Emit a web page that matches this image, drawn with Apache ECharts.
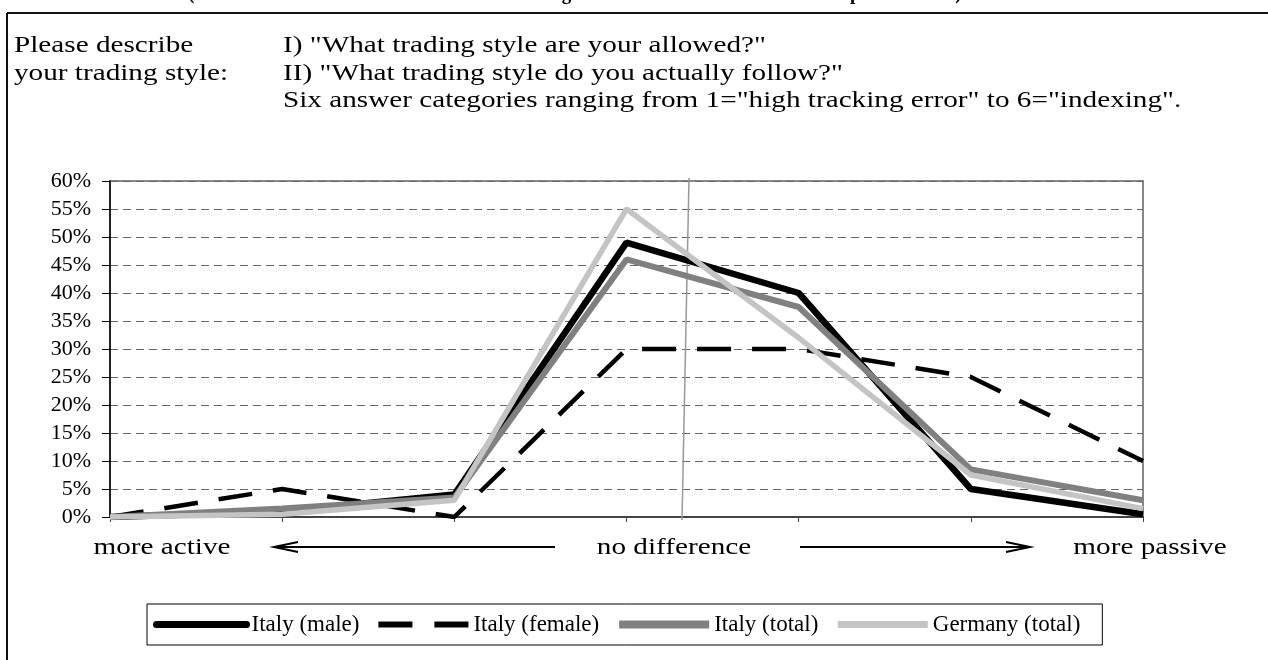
<!DOCTYPE html>
<html>
<head>
<meta charset="utf-8">
<script src="https://cdn.jsdelivr.net/npm/echarts@6/dist/echarts.min.js"></script>
<style>
  html, body { margin: 0; padding: 0; background: #fff; }
  #chart { width: 1268px; height: 660px; }
</style>
</head>
<body>
<div id="chart"></div>
<script>
// difference between actual and allowed style, -3 (more active) .. +3 (more passive)
const categories = ['-3', '-2', '-1', '0', '1', '2', '3'];
const italyMale = [0, 1, 4, 49, 40, 5, 0.5];
const italyFemale = [0, 5, 0, 30, 30, 25, 10];
const italyTotal = [0, 1.5, 3.5, 46, 37.5, 8.5, 3];
const germanyTotal = [0, 0.5, 3, 55, 32, 7.5, 1.5];
const seriesNames = ['Italy (male)', 'Italy (female)', 'Italy (total)', 'Germany (total)'];
const yMin = 0, yMax = 60, yStep = 5;

const serif = "'Liberation Serif', 'Times New Roman', serif";
const stretch = 1.27;

function txt(text, x, y, align) {
  return {
    type: 'text', x: x, y: y, scaleX: stretch, silent: true,
    style: { text: text, font: '23px ' + serif, fill: '#000', align: align || 'left', verticalAlign: 'middle' }
  };
}

const chart = echarts.init(document.getElementById('chart'));

chart.setOption({
  backgroundColor: '#fff',
  animation: false,
  grid: {
    left: 110, right: 125, top: 181, bottom: 143,
    show: true, borderColor: '#888', borderWidth: 2, backgroundColor: 'transparent',
    outerBoundsMode: 'none'
  },
  legend: {
    left: 147, top: 604,
    padding: [9, 22, 9, 6],
    itemWidth: 90, itemHeight: 14, itemGap: 16,
    borderColor: '#000', borderWidth: 1, borderRadius: 0,
    backgroundColor: '#fff',
    itemStyle: { opacity: 0 },
    textStyle: { fontFamily: serif, fontSize: 23, color: '#000' },
    data: [
      { name: seriesNames[0], lineStyle: { width: 7, cap: 'round' } },
      { name: seriesNames[1], lineStyle: { width: 6, type: [34, 22] } },
      { name: seriesNames[2], lineStyle: { width: 8 } },
      { name: seriesNames[3], lineStyle: { width: 7 } }
    ]
  },
  xAxis: {
    type: 'category',
    data: categories,
    boundaryGap: false,
    axisLine: { lineStyle: { color: '#444', width: 2 } },
    axisTick: { show: true, interval: 0, length: 5, lineStyle: { color: '#444', width: 1 } },
    axisLabel: { show: false },
    splitLine: { show: false }
  },
  yAxis: {
    type: 'value',
    min: yMin, max: yMax, interval: yStep,
    axisLine: { show: true, lineStyle: { color: '#000', width: 1.5 } },
    axisTick: { show: true, length: 8, lineStyle: { color: '#000' } },
    axisLabel: { formatter: '{value}%', fontFamily: serif, fontSize: 22, color: '#000', margin: 19 },
    splitLine: { show: true, lineStyle: { color: '#666', width: 1, type: [8, 5] } }
  },
  series: [
    {
      name: seriesNames[0], type: 'line', data: italyMale, symbol: 'none',
      color: '#000', lineStyle: { color: '#000', width: 6.5 }
    },
    {
      name: seriesNames[1], type: 'line', data: italyFemale, symbol: 'none',
      color: '#000', lineStyle: { color: '#000', width: 4.5, type: [34, 21] }
    },
    {
      name: seriesNames[2], type: 'line', data: italyTotal, symbol: 'none',
      color: '#808080', lineStyle: { color: '#808080', width: 6 }
    },
    {
      name: seriesNames[3], type: 'line', data: germanyTotal, symbol: 'none',
      color: '#c4c4c4', lineStyle: { color: '#c4c4c4', width: 5.5 }
    }
  ],
  graphic: [
    // frame of the page figure
    { type: 'line', silent: true, shape: { x1: 7, y1: 13, x2: 1268, y2: 13 }, style: { stroke: '#111', lineWidth: 2 } },
    { type: 'line', silent: true, shape: { x1: 7, y1: 13, x2: 7, y2: 660 }, style: { stroke: '#111', lineWidth: 2 } },
    // cut-off heading
    {
      type: 'text', x: 188, y: 4, scaleX: 0.95, silent: true,
      style: {
        text: '(Difference between allowed and actual trading behaviour of Italian and German professionals)',
        font: 'bold 20px ' + serif, fill: '#000', align: 'left', verticalAlign: 'bottom'
      }
    },
    txt('Please describe', 14, 46),
    txt('your trading style:', 14, 74),
    txt('I) "What trading style are your allowed?"', 283, 46),
    txt('II) "What trading style do you actually follow?"', 283, 74),
    txt('Six answer categories ranging from 1="high tracking error" to 6="indexing".', 283, 101),
    // thin vertical marker
    { type: 'line', silent: true, z: 1, shape: { x1: 689, y1: 178, x2: 682, y2: 520 }, style: { stroke: '#999', lineWidth: 1.5 } },
    // axis captions with arrows
    txt('more active', 162, 548, 'center'),
    txt('no difference', 674, 548, 'center'),
    txt('more passive', 1150, 548, 'center'),
    { type: 'line', silent: true, shape: { x1: 276, y1: 547, x2: 555, y2: 547 }, style: { stroke: '#000', lineWidth: 2 } },
    { type: 'polyline', silent: true, shape: { points: [[298, 542], [274, 547], [298, 552]] }, style: { stroke: '#000', lineWidth: 2, fill: null } },
    { type: 'line', silent: true, shape: { x1: 800, y1: 547, x2: 1028, y2: 547 }, style: { stroke: '#000', lineWidth: 2 } },
    { type: 'polyline', silent: true, shape: { points: [[1006, 542], [1030, 547], [1006, 552]] }, style: { stroke: '#000', lineWidth: 2, fill: null } }
  ]
});
</script>
</body>
</html>
